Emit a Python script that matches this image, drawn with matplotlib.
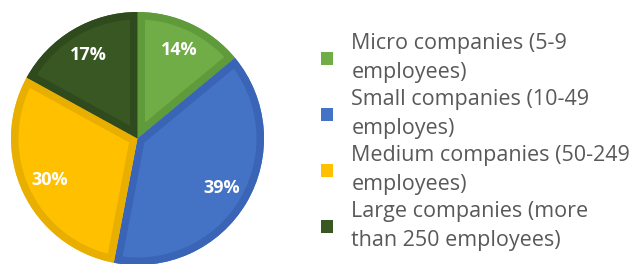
import matplotlib
matplotlib.use("Agg")
import matplotlib.pyplot as plt
from matplotlib.patches import Wedge, Patch

categories = ["Micro companies (5-9\nemployees)",
              "Small companies (10-49\nemployes)",
              "Medium companies (50-249\nemployees)",
              "Large companies (more\nthan 250 employees)"]
values = [14, 39, 30, 17]
face_colors = ["#70AD47", "#4472C4", "#FFC000", "#385723"]
band_colors = ["#5F9A3B", "#3A65B6", "#E8AE00", "#2F4B1D"]

W, H = 635, 264
fig = plt.figure(figsize=(W / 100, H / 100), dpi=100)
cx, cy, r = 137.5, 264 - 138.5, 126.5
ax = fig.add_axes([(cx - r) / W, (cy - r) / H, 2 * r / W, 2 * r / H])

wedges, texts, autotexts = ax.pie(
    values, colors=face_colors, startangle=90, counterclock=False,
    radius=1, autopct=lambda p: f"{p:.0f}%", pctdistance=0.77,
    wedgeprops=dict(linewidth=0),
    textprops=dict(color="white", fontsize=13, fontweight="bold",
                   family=["Open Sans", "DejaVu Sans"]))
band_px = 7.5
for w, bc in zip(wedges, band_colors):
    b = Wedge(w.center, w.r, w.theta1, w.theta2, facecolor="none",
              edgecolor=bc, linewidth=2 * band_px * 72 / 100, zorder=w.get_zorder() + 0.1)
    ax.add_patch(b)
    b.set_clip_path(w)
for t in autotexts:
    t.set_zorder(5)
ax.set_xlim(-1, 1)
ax.set_ylim(-1, 1)
ax.axis("off")

handles = [Patch(facecolor=c, edgecolor="none") for c in face_colors]
leg = fig.legend(handles, categories, loc="upper left",
                 bbox_to_anchor=(321 / W, 1 - 33 / H), frameon=False,
                 borderpad=0, borderaxespad=0, handlelength=0.56, handleheight=0.56,
                 handletextpad=0.85, labelspacing=0.28,
                 prop=dict(family=["Open Sans", "DejaVu Sans"], size=15.5))
for t in leg.get_texts():
    t.set_color("#595959")
    t.set_linespacing(1.5)

fig.savefig("out.png", dpi=100)
